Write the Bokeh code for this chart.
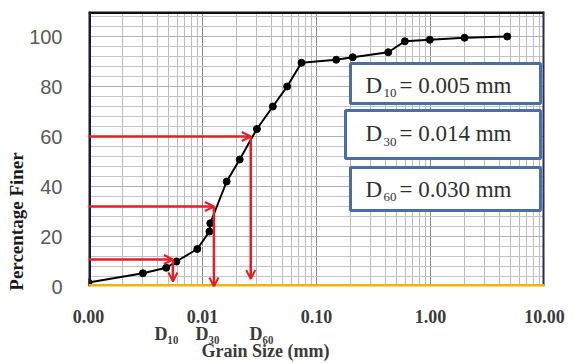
import math
from bokeh.plotting import figure
from bokeh.models import (FixedTicker, Span, Arrow, OpenHead, Label, BoxAnnotation,
                          LinearAxis)
from bokeh.embed import file_html
from bokeh.resources import INLINE

# ---------------- data ----------------
grain_size_mm = [0.001, 0.003, 0.0048, 0.0059, 0.009, 0.0115, 0.0117, 0.0163,
                 0.0212, 0.030, 0.0414, 0.0553, 0.0738, 0.149, 0.208, 0.426,
                 0.596, 0.986, 1.99, 4.71]
percent_finer = [1.6, 5.3, 7.5, 10.0, 15.0, 22.0, 25.3, 42.0,
                 50.8, 63.0, 72.0, 80.0, 89.5, 90.7, 91.7, 93.7,
                 98.1, 98.7, 99.5, 100.0]

x_tick_values = [0.001, 0.01, 0.1, 1.0, 10.0]
x_tick_labels = ["0.00", "0.01", "0.10", "1.00", "10.00"]
y_tick_values = [0, 20, 40, 60, 80, 100]

d_names = ["D₁₀", "D₃₀", "D₆₀"]
d_subscripts = ["10", "30", "60"]
d_values_text = ["0.005", "0.014", "0.030"]
d_arrow_x = [0.0055, 0.0126, 0.0265]      # grain size where the arrow drops
d_arrow_y = [10.8, 32.0, 60.0]            # percent finer of the horizontal arrow
d_arrow_end_y = [2.0, 0.0, 3.0]           # tip of the vertical arrow

x_title = "Grain Size (mm)"
y_title = "Percentage Finer"

# ---------------- layout helpers (pixel -> data) ----------------
FL, FR, FT, FB = 88, 544, 11, 286
W, H = 573, 363
XMIN, XMAX, YMIN, YMAX = 0.001, 10.0, 0.0, 110.0
def xd(px):
    return 10 ** (math.log10(XMIN) + (px - FL) / (FR - FL) * (math.log10(XMAX) - math.log10(XMIN)))
def yd(py):
    return YMIN + (FB - py) / (FB - FT) * (YMAX - YMIN)

RED = "#e41e26"
SERIF = "Liberation Serif"

p = figure(width=W, height=H, x_axis_type="log", x_range=(XMIN, XMAX), y_range=(YMIN, YMAX),
           output_backend="svg", toolbar_location=None,
           min_border_left=FL, min_border_right=W - FR, min_border_top=FT, min_border_bottom=H - FB)
p.background_fill_color = "white"
p.border_fill_color = "white"
p.outline_line_color = None

x_minor = [m * 10 ** e for e in range(-3, 1) for m in range(2, 10)]
y_minor = [v for v in range(0, 112, 4) if v % 20 != 0]

# x axis: decade labels, D labels (second line) and the axis title (third line)
d_label_px = [166, 207, 261]
title_px = 265
axis_ticks = list(x_tick_values) + [xd(v) for v in d_label_px] + [xd(title_px)]
axis_labels = list(x_tick_labels) + ["\n" + n for n in d_names] + ["\n\n" + x_title]
p.xaxis.ticker = FixedTicker(ticks=axis_ticks)
p.xaxis.major_label_overrides = dict(zip(axis_ticks, axis_labels))
p.yaxis.ticker = FixedTicker(ticks=y_tick_values, minor_ticks=y_minor)
p.xgrid.ticker = FixedTicker(ticks=x_tick_values, minor_ticks=x_minor)
p.ygrid.ticker = FixedTicker(ticks=y_tick_values, minor_ticks=y_minor)

p.xgrid.grid_line_color = "#8a8a8a"
p.xgrid.minor_grid_line_color = "#bcbcbc"
p.ygrid.grid_line_color = "#b0b0b0"
p.ygrid.minor_grid_line_color = "#c4c4c4"

# y title as an outer left axis with one vertical label
title_axis = LinearAxis(ticker=FixedTicker(ticks=[yd(221)]),
                        major_label_overrides={yd(221): y_title},
                        major_label_orientation="vertical")
p.add_layout(title_axis, "left")

for ax in (p.xaxis[0], p.yaxis[0], title_axis):
    ax.axis_line_color = None
    ax.major_tick_line_color = None
    ax.minor_tick_line_color = None
    ax.major_tick_out = 0
    ax.major_tick_in = 0
xa_ = p.xaxis[0]
xa_.major_label_text_font = SERIF
xa_.major_label_text_font_style = "bold"
xa_.major_label_text_font_size = "18px"
xa_.major_label_text_line_height = 0.85
xa_.major_label_text_color = "#3a3a3a"
xa_.major_label_standoff = 20
ya_ = p.yaxis[0]
ya_.major_label_text_font = "Liberation Sans"
ya_.major_label_text_font_size = "20px"
ya_.major_label_text_color = "#595959"
ya_.major_label_standoff = 22
title_axis.major_label_text_font = SERIF
title_axis.major_label_text_font_style = "bold"
title_axis.major_label_text_font_size = "19px"
title_axis.major_label_text_color = "#1a1a1a"
title_axis.major_label_standoff = 0

# frame borders
p.add_layout(Span(location=YMAX, dimension="width", line_color="#111111", line_width=5))
p.add_layout(Span(location=XMIN, dimension="height", line_color="#1a1a3a", line_width=5))
p.add_layout(Span(location=XMAX, dimension="height", line_color="#2a2a5a", line_width=4))
p.add_layout(Span(location=YMIN, dimension="width", line_color="#f2b400", line_width=5))

# data
p.line(grain_size_mm, percent_finer, line_color="black", line_width=2)
p.scatter(grain_size_mm, percent_finer, size=7, color="black")

# red arrows
for xa, ya, ye in zip(d_arrow_x, d_arrow_y, d_arrow_end_y):
    p.add_layout(Arrow(end=OpenHead(size=9, line_color=RED, line_width=2),
                       x_start=XMIN, y_start=ya, x_end=xa, y_end=ya,
                       line_color=RED, line_width=2.5))
    p.add_layout(Arrow(end=OpenHead(size=9, line_color=RED, line_width=2),
                       x_start=xa, y_start=ya, x_end=xa, y_end=ye,
                       line_color=RED, line_width=2.5))

# boxes with D values
box_px = [(350, 540, 63, 103), (345, 540, 110, 158), (350, 540, 167, 210)]
text_mid_px = [84.5, 133, 188.5]
for (l, r, t, b), mid, sub, val in zip(box_px, text_mid_px, d_subscripts, d_values_text):
    p.add_layout(BoxAnnotation(left=xd(l), right=xd(r), top=yd(t), bottom=yd(b),
                               fill_color="white", fill_alpha=1.0,
                               line_color="#4a6ea8", line_width=3, line_alpha=1.0))
    p.add_layout(Label(x=xd(365), y=yd(mid), text="D", text_font=SERIF,
                       text_font_size="23px", text_color="#303030",
                       text_align="left", text_baseline="middle"))
    p.add_layout(Label(x=xd(383), y=yd(mid + 8), text=sub, text_font=SERIF,
                       text_font_size="13px", text_color="#303030",
                       text_align="left", text_baseline="middle"))
    p.add_layout(Label(x=xd(399), y=yd(mid), text="= " + val + " mm", text_font=SERIF,
                       text_font_size="23px", text_color="#303030",
                       text_align="left", text_baseline="middle"))

open("out.html", "w").write(file_html(p, INLINE))
